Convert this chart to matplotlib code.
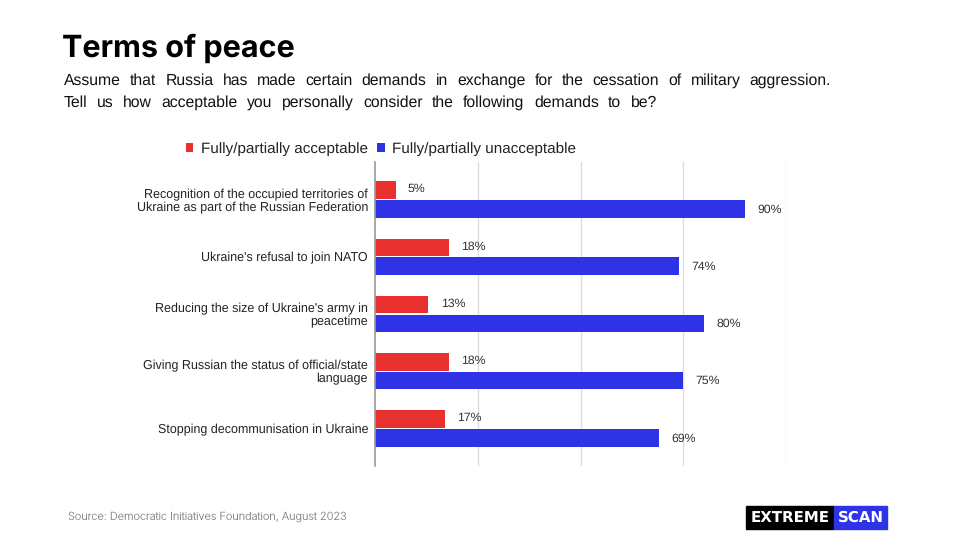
import matplotlib.pyplot as plt
import numpy as np
from matplotlib.patches import Rectangle

plt.rcParams['text.hinting'] = 'no_hinting'

# --- Data ---
categorias = [
    "Recognition of the occupied territories of\nUkraine as part of the Russian Federation",
    "Ukraine's refusal to join NATO",
    "Reducing the size of Ukraine's army in\npeacetime",
    "Giving Russian the status of official/state\nlanguage",
    "Stopping decommunisation in Ukraine",
]
aceptable = [5, 18, 13, 18, 17]
inaceptable = [90, 74, 80, 75, 69]
series = ["Fully/partially acceptable", "Fully/partially unacceptable"]

subtitulo = [
    "Assume that Russia has made certain demands in exchange for the cessation of military aggression.",
    "Tell us how acceptable you personally consider the following demands to be?",
]
fin_lineas = [831, 657]  # borde derecho (px) de cada línea, texto espaciado

rojo = "#E8302F"
azul = "#2E33E6"

fig = plt.figure(figsize=(9.6, 5.4), dpi=100)
ax = fig.add_axes([375 / 960, 1 - 466 / 540, 411 / 960, 304 / 540])

y = np.arange(len(categorias))
h = 0.31
ax.barh(y - h / 2 - 0.01, aceptable, height=h, color=rojo, label=series[0], zorder=3)
ax.barh(y + h / 2 + 0.01, inaceptable, height=h, color=azul, label=series[1], zorder=3)

for i in range(len(categorias)):
    ax.text(aceptable[i] + 3, y[i] - h / 2 - 0.03, f"{aceptable[i]}%", va="center",
            ha="left", fontsize=8.8, color="#333333", family="Liberation Sans")
    ax.text(inaceptable[i] + 3, y[i] + h / 2 + 0.02, f"{inaceptable[i]}%", va="center",
            ha="left", fontsize=8.8, color="#333333", family="Liberation Sans")

ax.set_xlim(0, 100)
ax.set_ylim(len(categorias) - 1 + 0.66, -0.66)
ax.set_yticks(y)
ax.set_yticklabels(categorias, fontsize=9, family="Liberation Sans", color="#222222",
                   linespacing=1.05)
ax.tick_params(axis="y", length=0, pad=5)
ax.set_xticks([25, 50, 75, 100])
ax.tick_params(axis="x", length=0, labelbottom=False)
ax.grid(axis="x", color="#dddddd", linewidth=1, zorder=0)
for s in ["top", "right", "bottom"]:
    ax.spines[s].set_visible(False)
ax.spines["left"].set_color("#999999")
ax.spines["left"].set_linewidth(1.2)
ax.spines["left"].set_zorder(4)

# leyenda
leg = ax.legend(loc="lower left", bbox_to_anchor=(-0.483, 0.99), ncol=2, frameon=False,
                prop={"family": "Liberation Sans", "size": 11}, handlelength=0.5,
                handleheight=0.5, handletextpad=0.5, columnspacing=0.6, borderaxespad=0.2)
for t in leg.get_texts():
    t.set_color("#222222")

# --- Títulos ---
fig.text(62 / 960, 1 - 48 / 540, "Terms of peace", fontsize=22, fontweight="bold",
         family="Inter", va="center", ha="left", color="black")

# subtítulo con espaciado entre palabras
renderer = fig.canvas.get_renderer()
for linea, fin, ypx in zip(subtitulo, fin_lineas, [85, 107]):
    palabras = linea.split()
    textos = [fig.text(0, 1 - ypx / 540, p, fontsize=11.3, family="Liberation Sans",
                       va="baseline", ha="left", color="#111111") for p in palabras]
    anchos = [t.get_window_extent(renderer).width for t in textos]
    hueco = (fin - 64 - sum(anchos)) / (len(palabras) - 1)
    x = 64.0
    for t, w in zip(textos, anchos):
        t.set_x(x / 960)
        x += w + hueco

fig.text(68 / 960, 1 - 517 / 540, "Source: Democratic Initiatives Foundation, August 2023",
         fontsize=7.9, family="Inter", fontweight="light", va="center", ha="left",
         color="#808080")

# logo
fig.patches.append(Rectangle((746 / 960, 1 - 529 / 540), 88 / 960, 23 / 540,
                             transform=fig.transFigure, color="black"))
fig.patches.append(Rectangle((834 / 960, 1 - 529 / 540), 53 / 960, 23 / 540,
                             transform=fig.transFigure, color=azul))
fig.text(790.5 / 960, 1 - 517.5 / 540, "EXTREME", fontsize=10.8, fontweight="bold",
         family="DejaVu Sans", color="white", va="center", ha="center")
fig.text(861 / 960, 1 - 517.5 / 540, "SCAN", fontsize=10.8, fontweight="bold",
         family="DejaVu Sans", color="white", va="center", ha="center")

fig.savefig("out.png", dpi=100)
